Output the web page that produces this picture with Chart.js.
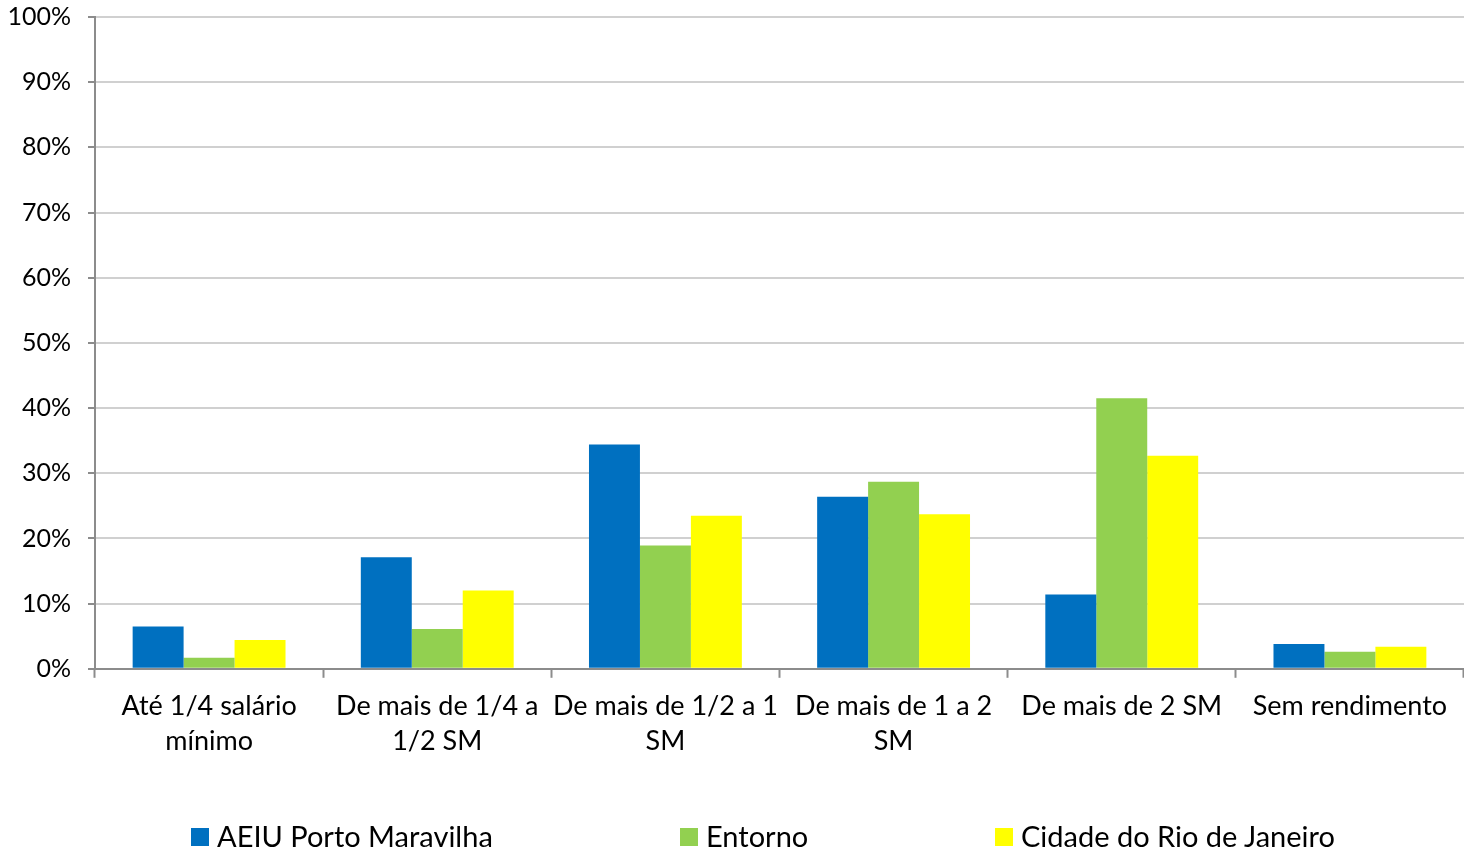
<!DOCTYPE html>
<html>
<head>
<meta charset="utf-8">
<script src="https://cdn.jsdelivr.net/npm/chart.js@4"></script>
<style>
  html, body { margin: 0; padding: 0; background: #fff; }
  #wrap { position: relative; width: 1464px; height: 850px; }
  #legend { position: absolute; top: 818px; left: 0; width: 1464px; height: 36px; font-family: Lato, sans-serif; font-size: 29px; color: #000; }
  #legend span.item { position: absolute; top: 0; white-space: nowrap; }
  #legend span.box { display: inline-block; width: 18px; height: 18px; margin-right: 8px; vertical-align: 1px; }
</style>
</head>
<body>
<div id="wrap">
  <canvas id="chart" width="1464" height="850"></canvas>
  <div id="legend"></div>
</div>
<script>
// categories (wrapped as in the original)
const categories = [
    ['Até 1/4 salário', 'mínimo'],
    ['De mais de 1/4 a', '1/2 SM'],
    ['De mais de 1/2 a 1', 'SM'],
    ['De mais de 1 a 2', 'SM'],
    'De mais de 2 SM',
    'Sem rendimento'
];
const seriesNames = ['AEIU Porto Maravilha', 'Entorno', 'Cidade do Rio de Janeiro'];
const aeiu = [6.5, 17.1, 34.4, 26.4, 11.4, 3.8];
const entorno = [1.7, 6.1, 18.9, 28.7, 41.5, 2.6];
const cidade = [4.4, 12.0, 23.5, 23.7, 32.7, 3.4];
const colors = ['#0070C0', '#92D050', '#FFFF00'];
const legendX = [191, 680, 995];

const font = 'Lato, sans-serif';

const chart = new Chart(document.getElementById('chart').getContext('2d'), {
    type: 'bar',
    data: {
        labels: categories,
        datasets: [aeiu, entorno, cidade].map((d, i) => ({
            label: seriesNames[i],
            data: d,
            backgroundColor: colors[i],
            borderWidth: 0,
            categoryPercentage: 0.67,
            barPercentage: 1.0
        }))
    },
    options: {
        responsive: false,
        animation: false,
        layout: { padding: { left: 0, right: 0, top: 17, bottom: 80 } },
        plugins: {
            legend: { display: false },
            tooltip: { enabled: false }
        },
        scales: {
            x: {
                border: { color: '#8c8c8c', width: 2 },
                grid: { drawOnChartArea: false, drawTicks: true, tickLength: 9, tickColor: '#8c8c8c', tickWidth: 2, offset: true },
                ticks: { color: '#000', font: { family: font, size: 27, lineHeight: 1.3 }, padding: 11, maxRotation: 0, autoSkip: false }
            },
            y: {
                min: 0,
                max: 100,
                afterFit: s => { s.width = 95; s.paddingTop = 0; s.paddingBottom = 0; },
                border: { color: '#8c8c8c', width: 2 },
                grid: { color: '#d0d0d0', lineWidth: 2, tickLength: 7, tickColor: '#8c8c8c', tickWidth: 2 },
                ticks: { stepSize: 10, color: '#000', font: { family: font, size: 25 }, padding: 17, callback: v => v + '%' }
            }
        }
    }
});

// legend below the chart, built from the datasets
const legend = document.getElementById('legend');
chart.data.datasets.forEach((ds, i) => {
    const item = document.createElement('span');
    item.className = 'item';
    item.style.left = legendX[i] + 'px';
    const box = document.createElement('span');
    box.className = 'box';
    box.style.background = ds.backgroundColor;
    item.appendChild(box);
    item.appendChild(document.createTextNode(ds.label));
    legend.appendChild(item);
});
</script>
</body>
</html>
